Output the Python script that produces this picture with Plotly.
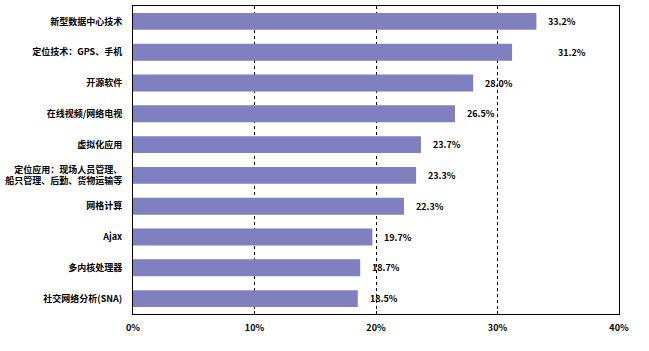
import plotly.graph_objects as go

categories = [
    "新型数据中心技术",
    "定位技术：GPS、手机",
    "开源软件",
    "在线视频/网络电视",
    "虚拟化应用",
    "定位应用：现场人员管理、<br>船只管理、后勤、货物运输等",
    "网格计算",
    "Ajax",
    "多内核处理器",
    "社交网络分析(SNA)",
]
values = [33.2, 31.2, 28.0, 26.5, 23.7, 23.3, 22.3, 19.7, 18.7, 18.5]
value_labels = ["33.2%", "31.2%", "28.0%", "26.5%", "23.7%", "23.3%", "22.3%", "19.7%", "18.7%", "18.5%"]
label_shift = [10, 44, 10, 10, 10, 10, 10, 10, 10, 10]
tick_vals = [0, 10, 20, 30, 40]
tick_text = ["0%", "10%", "20%", "30%", "40%"]

font_family = "Noto Sans CJK SC, Liberation Sans, Arial"

fig = go.Figure()
fig.add_trace(go.Bar(
    y=categories, x=values, orientation="h",
    marker=dict(color="#8080C0", line=dict(width=0)),
    width=0.55,
    hoverinfo="skip",
))

for c, v, t, s in zip(categories, values, value_labels, label_shift):
    fig.add_annotation(
        x=v, y=c, text="<b>" + t + "</b>", showarrow=False,
        xanchor="left", xshift=s, yanchor="middle",
        font=dict(family=font_family, size=9, color="black"),
    )

fig.update_layout(
    width=649, height=351,
    margin=dict(l=130, r=30, t=5, b=37),
    paper_bgcolor="white", plot_bgcolor="white",
    showlegend=False,
    bargap=0.45,
    font=dict(family=font_family, size=9, color="black"),
)
fig.update_xaxes(
    range=[0, 40], tickvals=tick_vals,
    ticktext=["<b>" + t + "</b>" for t in tick_text],
    showgrid=True, gridcolor="black", gridwidth=1, griddash="3px,3px",
    showline=True, linecolor="black", linewidth=1, mirror=True,
    ticks="inside", ticklen=3, tickcolor="black",
    ticklabelstandoff=5,
    zeroline=False, fixedrange=True,
    tickfont=dict(family=font_family, size=9, color="black"),
)
fig.update_yaxes(
    categoryorder="array", categoryarray=categories[::-1],
    autorange=True,
    tickvals=categories,
    ticktext=["<b>" + c + "</b>" for c in categories],
    showline=True, linecolor="black", linewidth=1, mirror=True,
    ticks="", ticklabelstandoff=8, showgrid=False,
    tickfont=dict(family=font_family, size=9, color="black"),
    fixedrange=True,
)

fig.write_html("out.html")
